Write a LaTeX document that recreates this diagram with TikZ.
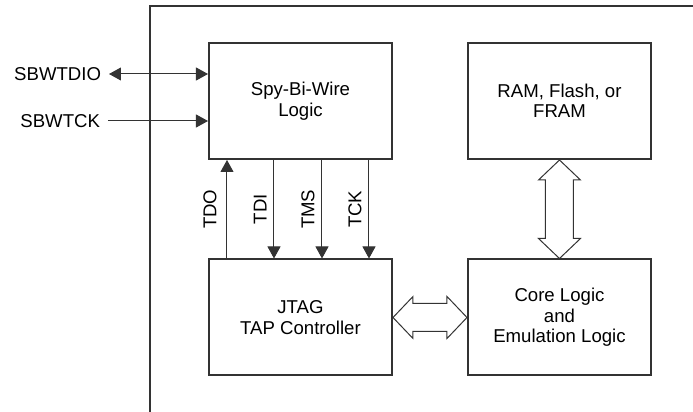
\documentclass[tikz,border=0pt]{standalone}
\usepackage{fontspec}
\setmainfont{Liberation Sans}
\usetikzlibrary{calc,arrows.meta}

\begin{document}
\begin{tikzpicture}[x=0.5pt,y=-0.5pt,
    font=\fontsize{9.3pt}{10.25pt}\selectfont,
    block/.style={draw=black!80,line width=1pt,align=center,inner sep=0pt,
                  minimum width=91.5pt,minimum height=58pt},
    pinname/.style={inner sep=0pt,outer xsep=4pt},
    sig/.style={draw=black!80,line width=0.5pt},
    tip/.style={-{Triangle[length=6pt,width=6.5pt]}},
    lbl/.style={midway,rotate=90,anchor=south,inner sep=3.5pt},
    hollow/.style={draw=black!80,line width=0.5pt,line join=miter}]
  \useasboundingbox (0,0) rectangle (693,412);
  \def\xl{300.5}
  \def\xr{559.5}
  \def\yt{101}
  \def\yb{317.5}

  % outer frame of the device
  \draw[black!80,line width=1pt] (150,412) -- (150,6) -- (693,6);

  \node[block] (sbw)  at (\xl,\yt) {Spy-Bi-Wire\\Logic};
  \node[block] (ram)  at (\xr,\yt) {RAM, Flash, or\\FRAM};
  \node[block] (jtag) at (\xl,\yb) {JTAG\\TAP Controller};
  \node[block] (core) at (\xr,\yb) {Core Logic\\and\\Emulation Logic};

  \node[pinname,anchor=east] (sbwtdio) at (109,74)  {SBWTDIO};
  \node[pinname,anchor=east] (sbwtck)  at (108,121) {SBWTCK};

  \draw[sig,{Triangle[length=6pt,width=6.5pt]}-{Triangle[length=6pt,width=6.5pt]}]
    (sbwtdio) -- (sbwtdio -| sbw.west);
  \draw[sig,tip] (sbwtck) -- (sbwtck -| sbw.west);

  \coordinate (tdo) at (227,0);
  \coordinate (tdi) at (274,0);
  \coordinate (tms) at (322,0);
  \coordinate (tck) at (369,0);

  \draw[sig,tip] (tdo |- jtag.north) -- node[lbl,inner sep=5pt] {TDO} (tdo |- sbw.south);
  \draw[sig,tip] (tdi |- sbw.south) -- node[lbl] {TDI} (tdi |- jtag.north);
  \draw[sig,tip] (tms |- sbw.south) -- node[lbl] {TMS} (tms |- jtag.north);
  \draw[sig,tip] (tck |- sbw.south) -- node[lbl] {TCK} (tck |- jtag.north);

  % wide two-way buses
  \draw[hollow] (jtag.east) -- ++(20,-21) -- ++(0,7)
    -- ($(core.west)+(-20,-14)$) -- ++(0,-7) -- (core.west)
    -- ++(-20,21) -- ++(0,-7) -- ($(jtag.east)+(20,14)$) -- ++(0,7) -- cycle;
  \draw[hollow] (ram.south) -- ++(-21,20) -- ++(7,0)
    -- ($(core.north)+(-14,-20)$) -- ++(-7,0) -- (core.north)
    -- ++(21,-20) -- ++(-7,0) -- ($(ram.south)+(14,20)$) -- ++(7,0) -- cycle;
\end{tikzpicture}
\end{document}
